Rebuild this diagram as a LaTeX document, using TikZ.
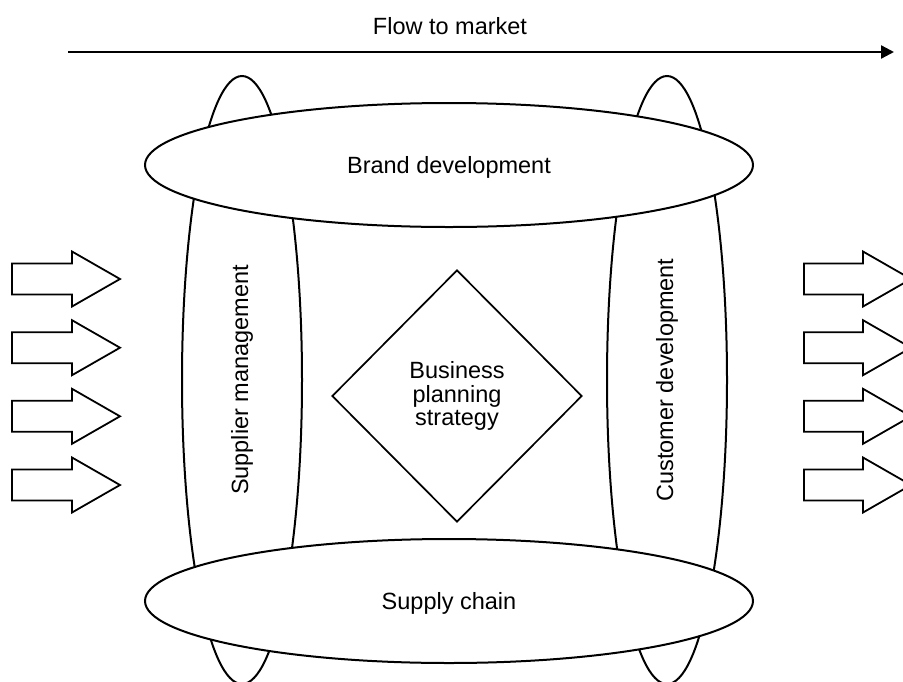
\documentclass[tikz,border=0pt]{standalone}
\usepackage{fontspec}
\setmainfont{Liberation Sans}
\usetikzlibrary{shapes.geometric,arrows.meta}
\tikzset{
  lbl/.style={font=\fontsize{23.5}{23.3}\selectfont, text=black},
  hband/.style={ellipse, draw=black, line width=2pt, fill=white, inner sep=0pt,
    minimum width=608pt, minimum height=124pt, text depth=0pt, lbl},
  vband/.style={ellipse, draw=black, line width=2pt, inner sep=0pt,
    minimum width=608pt, minimum height=120pt, rotate=90, lbl},
  core/.style={diamond, draw=black, line width=1.7pt, fill=white, inner sep=0pt,
    minimum width=250pt, minimum height=252pt, align=center, lbl},
  blockarrow/.style={draw=black, line width=1.8pt, line join=miter, fill=white},
  flow/.style={line width=2.3pt, -{Triangle[length=13pt,width=13pt]}}
}
\begin{document}
\begin{tikzpicture}[x=1pt,y=-1pt]
\useasboundingbox (0,0) rectangle (903,681);
\clip (0,0) rectangle (903,681);
\fill[white] (0,0) rectangle (903,681);
% flow to market
\node[lbl] (flowlbl) at (450,26) {Flow to market};
\coordinate (fs) at (68,52);
\coordinate (fe) at (894,52);
\draw[flow] (fs) -- (fe);
% vertical bands
\node[vband] (supp) at (242,380) {Supplier management};
\node[vband] (cust) at (667,380) {Customer development};
% horizontal bands
\node[hband] (brand) at (449,165) {Brand development};
\node[hband] (chain) at (449,601) {Supply chain};
% core
\node[core] (bps) at (457,396) {Business\\planning\\strategy};
% block arrows
\foreach \c in {279,347.7,416.3,485} {
  \draw[blockarrow] (12,{\c-15.5}) -- (72,{\c-15.5}) -- (72,{\c-27.5}) -- (120,\c)
    -- (72,{\c+27.5}) -- (72,{\c+15.5}) -- (12,{\c+15.5}) -- cycle;
  \draw[blockarrow] (804,{\c-15.5}) -- (863,{\c-15.5}) -- (863,{\c-27.5}) -- (911,\c)
    -- (863,{\c+27.5}) -- (863,{\c+15.5}) -- (804,{\c+15.5}) -- cycle;
}
\end{tikzpicture}
\end{document}
